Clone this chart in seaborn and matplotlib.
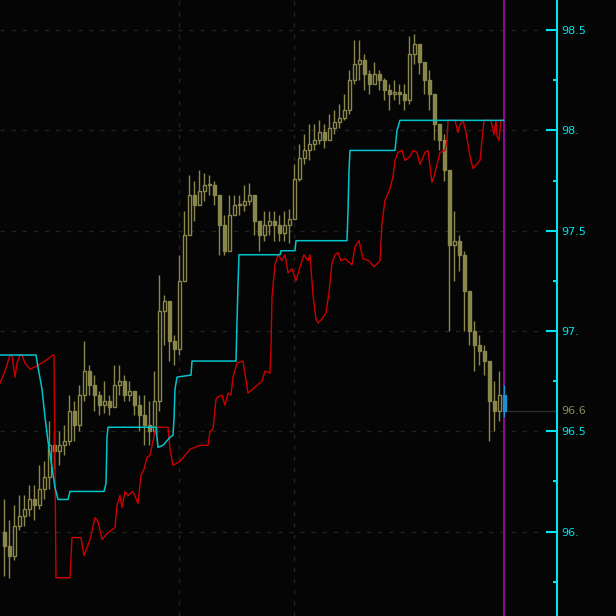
import numpy as np
import pandas as pd
import matplotlib
matplotlib.use("Agg")
import matplotlib.pyplot as plt
import matplotlib.transforms as mtransforms
from matplotlib.ticker import MultipleLocator, FuncFormatter
import seaborn as sns

# candle data, one bar per index
first_open = 96.00
close = [95.93, 95.88, 96.03, 96.08, 96.11, 96.16, 96.13, 96.21, 96.27, 96.43,
         96.40, 96.43, 96.45, 96.60, 96.53, 96.68, 96.80, 96.73, 96.68, 96.63,
         96.65, 96.62, 96.73, 96.75, 96.68, 96.70, 96.63, 96.58, 96.53, 96.50,
         96.65, 97.10, 97.15, 96.95, 96.91, 97.25, 97.48, 97.68, 97.63, 97.70,
         97.73, 97.73, 97.68, 97.53, 97.40, 97.58, 97.63, 97.63, 97.65, 97.68,
         97.55, 97.48, 97.53, 97.55, 97.53, 97.49, 97.53, 97.56, 97.76, 97.86,
         97.90, 97.93, 97.95, 97.99, 97.95, 98.01, 98.04, 98.06, 98.10, 98.25,
         98.33, 98.35, 98.28, 98.23, 98.28, 98.25, 98.20, 98.18, 98.19, 98.18,
         98.15, 98.38, 98.43, 98.34, 98.25, 98.18, 98.03, 97.95, 97.80, 97.43,
         97.45, 97.38, 97.20, 97.00, 96.93, 96.90, 96.85, 96.65, 96.60, 96.68,
         96.60]
high = [96.16, 96.06, 96.13, 96.18, 96.18, 96.23, 96.23, 96.33, 96.35, 96.55,
        96.50, 96.50, 96.53, 96.68, 96.65, 96.73, 96.95, 96.83, 96.78, 96.70,
        96.75, 96.68, 96.83, 96.83, 96.78, 96.75, 96.70, 96.68, 96.68, 96.65,
        96.80, 97.28, 97.18, 97.05, 96.98, 97.38, 97.60, 97.78, 97.75, 97.80,
        97.79, 97.78, 97.75, 97.68, 97.58, 97.68, 97.68, 97.68, 97.73, 97.74,
        97.68, 97.55, 97.60, 97.60, 97.60, 97.58, 97.60, 97.61, 97.83, 97.93,
        97.98, 98.03, 98.03, 98.05, 98.03, 98.08, 98.10, 98.13, 98.18, 98.30,
        98.45, 98.45, 98.38, 98.30, 98.34, 98.30, 98.26, 98.23, 98.25, 98.23,
        98.23, 98.47, 98.48, 98.43, 98.33, 98.30, 98.18, 98.03, 97.98, 97.80,
        97.60, 97.48, 97.40, 97.15, 97.05, 96.98, 96.93, 96.85, 96.75, 96.80,
        96.73]
low = [95.78, 95.77, 95.86, 96.01, 96.03, 96.08, 96.06, 96.11, 96.16, 96.21,
       96.31, 96.33, 96.38, 96.43, 96.45, 96.50, 96.65, 96.68, 96.60, 96.58,
       96.59, 96.58, 96.65, 96.68, 96.65, 96.65, 96.58, 96.50, 96.43, 96.43,
       96.48, 96.60, 96.93, 96.85, 96.83, 96.88, 97.25, 97.48, 97.55, 97.63,
       97.65, 97.68, 97.63, 97.38, 97.38, 97.48, 97.58, 97.58, 97.60, 97.63,
       97.48, 97.40, 97.45, 97.48, 97.45, 97.45, 97.45, 97.44, 97.58, 97.75,
       97.83, 97.85, 97.90, 97.93, 97.91, 97.95, 97.98, 98.01, 98.05, 98.08,
       98.23, 98.25, 98.20, 98.18, 98.23, 98.20, 98.15, 98.10, 98.15, 98.13,
       98.10, 98.13, 98.33, 98.28, 98.18, 98.10, 97.95, 97.90, 97.75, 97.00,
       97.25, 97.30, 97.00, 96.93, 96.80, 96.83, 96.78, 96.45, 96.50, 96.55,
       96.57]

# red indicator line (time in bar units, price)
red_t = [-0.8, 0.2, 1.2, 1.6, 2.2, 2.6, 3.2, 3.6, 4.2, 5.2, 6.2, 8.2, 9.8, 10.0,
         10.2, 10.4, 13.2, 13.6, 15.4, 16.0, 17.2, 18.2, 18.8, 19.6, 20.6, 22.2,
         22.6, 23.2, 23.6, 24.2, 24.8, 25.8, 26.8, 27.4, 28.0, 28.6, 29.2, 30.2,
         30.8, 32.8, 33.2, 33.8, 35.2, 37.2, 39.2, 40.8, 41.2, 41.8, 42.4, 42.8,
         43.6, 44.2, 44.8, 45.4, 45.8, 46.6, 47.8, 48.8, 50.2, 51.6, 52.2, 53.2,
         53.4, 53.6, 54.2, 54.8, 55.6, 56.2, 56.8, 57.6, 58.4, 59.2, 60.0, 60.8,
         61.2, 61.8, 62.4, 62.8, 63.6, 64.4, 65.0, 65.6, 66.2, 66.8, 67.4, 68.2,
         69.6, 70.2, 71.0, 71.8, 73.0, 74.0, 75.2, 75.6, 76.2, 77.2, 77.8, 78.2,
         78.8, 79.6, 80.2, 81.2, 81.8, 82.6, 83.2, 84.2, 84.8, 85.6, 86.0, 86.8,
         87.2, 88.2, 88.6, 88.8, 90.2, 90.8, 91.2, 91.8, 92.4, 93.2, 93.8, 95.2,
         95.6, 96.0, 97.4, 98.0, 98.4, 98.6, 99.0, 99.4, 100.0]
red_v = [96.74, 96.80, 96.88, 96.88, 96.77, 96.84, 96.88, 96.88, 96.84, 96.81,
         96.82, 96.85, 96.88, 96.88, 96.31, 95.77, 95.77, 95.97, 95.97, 95.88,
         95.96, 96.07, 96.05, 95.96, 95.99, 96.02, 96.13, 96.18, 96.12, 96.20,
         96.18, 96.20, 96.14, 96.28, 96.31, 96.37, 96.38, 96.50, 96.52, 96.52,
         96.41, 96.33, 96.35, 96.41, 96.43, 96.43, 96.50, 96.51, 96.66, 96.67,
         96.68, 96.63, 96.69, 96.68, 96.77, 96.84, 96.85, 96.69, 96.72, 96.75,
         96.80, 96.79, 96.92, 97.17, 97.33, 97.38, 97.35, 97.38, 97.29, 97.31,
         97.25, 97.32, 97.38, 97.35, 97.38, 97.18, 97.06, 97.04, 97.06, 97.09,
         97.19, 97.34, 97.38, 97.39, 97.35, 97.36, 97.33, 97.42, 97.45, 97.36,
         97.35, 97.32, 97.35, 97.54, 97.65, 97.71, 97.77, 97.85, 97.89, 97.90,
         97.85, 97.87, 97.90, 97.89, 97.83, 97.89, 97.90, 97.74, 97.77, 97.85,
         97.89, 97.90, 97.95, 98.05, 98.05, 97.99, 98.03, 98.05, 97.99, 97.87,
         97.81, 97.85, 97.95, 98.05, 98.05, 97.98, 98.05, 97.97, 97.95, 98.05,
         98.05]

# cyan stop line
cyan_t = [-0.8, 6.4, 6.8, 7.6, 8.2, 8.8, 9.6, 10.2, 10.8, 12.8, 13.2, 20.0, 20.4,
          20.6, 20.8, 30.4, 30.8, 31.8, 33.2, 33.8, 34.0, 34.2, 34.6, 37.4, 37.6,
          46.4, 46.6, 46.8, 47.0, 55.2, 55.4, 58.2, 58.4, 68.6, 68.8, 69.0, 69.2,
          78.2, 78.6, 79.2, 100.0]
cyan_v = [96.88, 96.88, 96.82, 96.71, 96.57, 96.45, 96.32, 96.22, 96.16, 96.16,
          96.20, 96.20, 96.24, 96.47, 96.52, 96.52, 96.42, 96.43, 96.47, 96.48,
          96.56, 96.71, 96.77, 96.78, 96.85, 96.85, 97.05, 97.23, 97.38, 97.38,
          97.40, 97.40, 97.45, 97.45, 97.60, 97.80, 97.90, 97.90, 98.00, 98.05,
          98.05]

day_breaks = [35, 58]
now_bar = 100
last_price = 96.60

BG = "#050505"
OLIVE = "#8a874c"
sns.set_theme(style="dark", rc={"axes.facecolor": BG, "figure.facecolor": BG})
plt.rcParams["font.family"] = ["DejaVu Sans"]

fig = plt.figure(figsize=(6.16, 6.16), dpi=100)
ax = fig.add_axes([0, 0, 557 / 616, 1])
ax.set_facecolor(BG)

opens = [first_open] + close[:-1]
df = pd.DataFrame({"t": np.arange(len(close)), "open": opens, "high": high,
                   "low": low, "close": close})

# candles: up bars hollow, down bars filled
for i, r in df.iterrows():
    col = "#1f8fd0" if i == len(df) - 1 else OLIVE
    ax.vlines(r.t, r.low, r.high, color=col, lw=1, zorder=3)
    lo, hi = min(r.open, r.close), max(r.open, r.close)
    h = max(hi - lo, 0.004)
    up = r.close > r.open
    ax.bar(r.t, h, bottom=lo, width=0.6, color=BG if up else col,
           edgecolor=col, linewidth=1, zorder=4)

sns.lineplot(x=red_t, y=red_v, ax=ax, color="#cc0000", lw=1.0,
             sort=False, estimator=None, zorder=5)
sns.lineplot(x=cyan_t, y=cyan_v, ax=ax, color="#00c4cc", lw=1.1,
             sort=False, estimator=None, zorder=5)

ax.axvline(now_bar, color="#8b0a8b", lw=1.5, zorder=2)
ax.plot([now_bar, 120], [last_price, last_price], color="#2a2a2a", lw=1, zorder=1)

ax.set_xlim(-0.8, 110.6)
ax.set_ylim(95.579, 98.65)

for s in ["left", "top", "bottom"]:
    ax.spines[s].set_visible(False)
ax.spines["right"].set_color("#00e4ee")
ax.spines["right"].set_linewidth(1.5)

ax.set_xticks(day_breaks)
ax.tick_params(axis="x", length=0, labelbottom=False)
ax.yaxis.tick_right()
ax.yaxis.set_major_locator(MultipleLocator(0.5))
ax.yaxis.set_minor_locator(MultipleLocator(0.25))


def fmt(v, pos):
    s = f"{v:g}"
    return s if "." in s else s + "."


ax.yaxis.set_major_formatter(FuncFormatter(fmt))
ax.tick_params(axis="y", which="major", direction="in", length=8, width=1.5,
               color="#00e4ee", labelcolor="#00e4ee", labelsize=8, pad=3)
ax.tick_params(axis="y", which="minor", direction="in", length=3, width=1.5,
               color="#00e4ee")
ax.grid(True, which="major", color="#222222", lw=1, ls=(0, (3, 5)))
ax.set_axisbelow(True)

ax.annotate(fmt(last_price, 0), xy=(1.0, last_price),
            xycoords=mtransforms.blended_transform_factory(ax.transAxes, ax.transData),
            xytext=(4, 0), textcoords="offset pixels", color="#8c8a5e",
            fontsize=8, va="center", ha="left", annotation_clip=False)

fig.savefig("out.png", dpi=100, facecolor=BG)
